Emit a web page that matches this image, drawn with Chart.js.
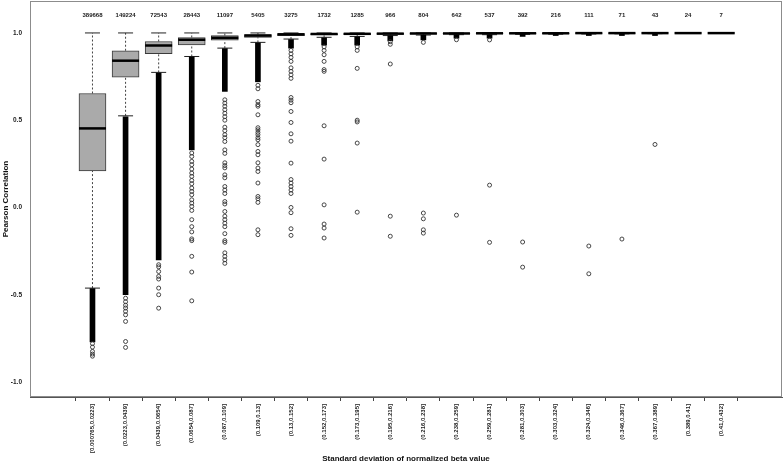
<!DOCTYPE html>
<html>
<head>
<meta charset="utf-8">
<script src="https://cdn.jsdelivr.net/npm/chart.js@4/dist/chart.umd.min.js"></script>
<style>
  html, body { margin: 0; padding: 0; background: #fff; }
  canvas { display: block; }
</style>
</head>
<body>
<canvas id="boxChart" width="784" height="463"></canvas>
<script>
// categories (bins of the standard deviation)
const categories = ['[0.000765,0.0223]', '(0.0223,0.0439]', '(0.0439,0.0654]', '(0.0654,0.087]', '(0.087,0.109]',
  '(0.109,0.13]', '(0.13,0.152]', '(0.152,0.173]', '(0.173,0.195]', '(0.195,0.216]',
  '(0.216,0.238]', '(0.238,0.259]', '(0.259,0.281]', '(0.281,0.303]', '(0.303,0.324]',
  '(0.324,0.346]', '(0.346,0.367]', '(0.367,0.389]', '(0.389,0.41]', '(0.41,0.432]'];
const counts = [389668, 149224, 72543, 28443, 11097, 5405, 3275, 1732, 1285, 966, 804, 642, 537, 392, 216, 111, 71, 43, 24, 7];

// box statistics
const whiskerLow = [-0.462, 0.525, 0.774, 0.865, 0.913, 0.946, 0.965, 0.975, 0.98, 0.985, 0.988, 0.99, 0.99, 0.992, 0.993, 0.994, 0.995, 0.996, 0.997, 0.998];
const q1 = [0.209, 0.747, 0.881, 0.932, 0.958, 0.975, 0.985, 0.988, 0.99, 0.992, 0.993, 0.994, 0.995, 0.995, 0.996, 0.997, 0.997, 0.998, 0.998, 0.999];
const median = [0.453, 0.841, 0.928, 0.961, 0.972, 0.985, 0.992, 0.994, 0.995, 0.996, 0.997, 0.997, 0.998, 0.998, 0.998, 0.999, 0.999, 0.999, 0.999, 0.999];
const q3 = [0.653, 0.898, 0.951, 0.974, 0.985, 0.99, 0.996, 0.997, 0.998, 0.998, 0.999, 0.999, 0.999, 0.999, 0.999, 1.0, 1.0, 1.0, 1.0, 1.0];
const whiskerHigh = [1.0, 1.0, 1.0, 1.0, 1.0, 1.0, 1.0, 1.0, 1.0, 1.0, 1.0, 1.0, 1.0, 1.0, 1.0, 1.0, 1.0, 1.0, 1.0, 1.0];

// ranges where outliers are so dense they merge into a solid column
const denseLow = [-0.77, -0.50, -0.30, 0.33, 0.665, 0.72, 0.913, 0.93, 0.93, 0.955, 0.96, 0.97, 0.97, 0.98, 0.985, 0.985, 0.985, 0.985, null, null];
const denseHigh = [-0.465, 0.52, 0.77, 0.862, 0.91, 0.943, 0.962, 0.972, 0.978, 0.984, 0.988, 0.99, 0.99, 0.992, 0.993, 0.993, 0.994, 0.995, null, null];

// single outliers
const outliers = [
  [-0.78, -0.80, -0.825, -0.84, -0.852],
  [-0.52, -0.54, -0.56, -0.576, -0.595, -0.615, -0.653, -0.768, -0.802],
  [-0.328, -0.34, -0.367, -0.395, -0.41, -0.462, -0.50, -0.577],
  [0.312, 0.292, 0.264, 0.245, 0.22, 0.197, 0.178, 0.155, 0.136, 0.111, 0.092, 0.073, 0.044, 0.025, 0.006, -0.017,
   -0.07, -0.11, -0.14, -0.18, -0.19, -0.28, -0.37, -0.535],
  [0.617, 0.598, 0.58, 0.56, 0.54, 0.52, 0.50, 0.46, 0.44, 0.417, 0.40, 0.378, 0.33, 0.31, 0.256, 0.24, 0.227, 0.187,
   0.17, 0.12, 0.10, 0.08, 0.034, 0.02, -0.023, -0.05, -0.07, -0.09, -0.11, -0.15, -0.19, -0.2, -0.26, -0.28, -0.30, -0.32],
  [0.70, 0.68, 0.607, 0.589, 0.58, 0.531, 0.457, 0.445, 0.43, 0.417, 0.40, 0.388, 0.36, 0.321, 0.302, 0.256, 0.226,
   0.206, 0.14, 0.063, 0.05, 0.029, -0.128, -0.156],
  [0.90, 0.88, 0.86, 0.837, 0.80, 0.78, 0.76, 0.74, 0.63, 0.615, 0.60, 0.55, 0.487, 0.422, 0.38, 0.254, 0.16, 0.14,
   0.12, 0.10, 0.08, 0.0, -0.03, -0.122, -0.16],
  [0.92, 0.90, 0.875, 0.837, 0.79, 0.78, 0.468, 0.277, 0.015, -0.095, -0.118, -0.175],
  [0.92, 0.90, 0.797, 0.50, 0.49, 0.369, -0.027],
  [0.95, 0.935, 0.822, -0.05, -0.165],
  [0.946, -0.032, -0.065, -0.128, -0.147],
  [0.961, -0.044],
  [0.96, 0.128, -0.2],
  [-0.198, -0.342],
  [],
  [-0.221, -0.38],
  [-0.181],
  [0.361],
  [],
  []
];

const yTicks = [-1.0, -0.5, 0.0, 0.5, 1.0];
const countLevel = 1.1;

const font = 'Liberation Sans, Arial, sans-serif';
const xs = categories.map((_, i) => i + 1);

const whiskerLines = [];
xs.forEach((x, i) => {
  whiskerLines.push({ x: x, y: whiskerLow[i] }, { x: x, y: q1[i] }, { x: x, y: null });
  whiskerLines.push({ x: x, y: q3[i] }, { x: x, y: whiskerHigh[i] }, { x: x, y: null });
});
const caps = [];
xs.forEach((x, i) => {
  caps.push({ x: x, y: whiskerLow[i] }, { x: x, y: whiskerHigh[i] });
});
const outlierPoints = [];
outliers.forEach((list, i) => list.forEach(v => outlierPoints.push({ x: xs[i], y: v })));

// grey frame round the plot and the n labels on top
const framePlugin = {
  id: 'frame',
  beforeDatasetsDraw(chart) {
    const { ctx, chartArea: a } = chart;
    ctx.save();
    ctx.strokeStyle = '#8c8c8c';
    ctx.lineWidth = 1;
    ctx.strokeRect(a.left + 0.5, a.top + 0.5, a.right - a.left - 1, a.bottom - a.top - 1);
    ctx.restore();
  },
  afterDatasetsDraw(chart) {
    const { ctx, scales } = chart;
    ctx.save();
    ctx.fillStyle = '#222';
    ctx.font = 'bold 6px ' + font;
    ctx.textAlign = 'center';
    ctx.textBaseline = 'middle';
    counts.forEach((n, i) => {
      ctx.fillText(String(n), scales.x.getPixelForValue(xs[i]), scales.y.getPixelForValue(countLevel));
    });
    ctx.restore();
  }
};

new Chart(document.getElementById('boxChart').getContext('2d'), {
  type: 'bar',
  data: {
    datasets: [
      {
        type: 'scatter',
        label: 'outliers',
        data: outlierPoints,
        pointStyle: 'circle',
        pointRadius: 2,
        pointBorderWidth: 0.9,
        pointBorderColor: '#333',
        pointBackgroundColor: 'rgba(0,0,0,0)',
        order: 1
      },
      {
        type: 'bar',
        label: 'dense',
        data: xs.map((x, i) => ({ x: x, y: denseLow[i] === null ? null : [denseLow[i], denseHigh[i]] })),
        backgroundColor: '#000',
        borderWidth: 0,
        barThickness: 5,
        grouped: false,
        order: 2
      },
      {
        type: 'scatter',
        label: 'median',
        data: xs.map((x, i) => ({ x: x, y: median[i] })),
        pointStyle: 'line',
        pointRadius: 13.5,
        pointBorderWidth: 2.5,
        pointBorderColor: '#000',
        order: 3
      },
      {
        type: 'bar',
        label: 'box',
        data: xs.map((x, i) => ({ x: x, y: [q1[i], q3[i]] })),
        backgroundColor: '#aaaaaa',
        borderColor: '#3a3a3a',
        borderWidth: 1,
        borderSkipped: false,
        barThickness: 27,
        grouped: false,
        order: 4
      },
      {
        type: 'scatter',
        label: 'caps',
        data: caps,
        pointStyle: 'line',
        pointRadius: 7.5,
        pointBorderWidth: 1,
        pointBorderColor: '#222',
        order: 5
      },
      {
        type: 'line',
        label: 'whiskers',
        data: whiskerLines,
        spanGaps: false,
        borderColor: '#444',
        borderWidth: 1,
        borderDash: [2, 2],
        pointRadius: 0,
        order: 6
      }
    ]
  },
  options: {
    responsive: false,
    animation: false,
    layout: { autoPadding: false, padding: { top: 1, right: 2, left: 0, bottom: 0 } },
    plugins: {
      legend: { display: false },
      tooltip: { enabled: false }
    },
    scales: {
      x: {
        type: 'linear',
        min: -0.32,
        max: 21.27,
        afterBuildTicks: (scale) => { scale.ticks = xs.map(v => ({ value: v })); },
        afterFit: (scale) => {
          scale.height = 66;
          scale.paddingLeft = 0;
          scale.paddingRight = 0;
        },
        grid: { display: true, drawOnChartArea: false, drawTicks: true, tickLength: 4, color: '#444' },
        border: { display: true, color: '#555', width: 1 },
        ticks: {
          autoSkip: false,
          minRotation: 90,
          maxRotation: 90,
          padding: 3,
          color: '#222',
          font: { family: font, size: 6, weight: 'bold' },
          callback: (v, i) => categories[i]
        },
        title: {
          display: true,
          text: 'Standard deviation of normalized beta value',
          color: '#111',
          font: { family: font, size: 8, weight: 'bold', lineHeight: 1 },
          padding: { top: 0, bottom: 0 }
        }
      },
      y: {
        type: 'linear',
        min: -1.086,
        max: 1.183,
        afterBuildTicks: (scale) => { scale.ticks = yTicks.map(v => ({ value: v })); },
        afterFit: (scale) => {
          scale.width = 30;
          scale.paddingTop = 0;
          scale.paddingBottom = 0;
        },
        grid: { display: false, drawTicks: false, tickLength: 0 },
        border: { display: false },
        ticks: {
          padding: 8,
          color: '#222',
          font: { family: font, size: 6.5, weight: 'bold' },
          callback: (v) => Number(v).toFixed(1)
        },
        title: {
          display: true,
          text: 'Pearson Correlation',
          color: '#111',
          font: { family: font, size: 8, weight: 'bold', lineHeight: 1 },
          padding: { top: 1.5, bottom: 0 }
        }
      }
    }
  },
  plugins: [framePlugin]
});
</script>
</body>
</html>
